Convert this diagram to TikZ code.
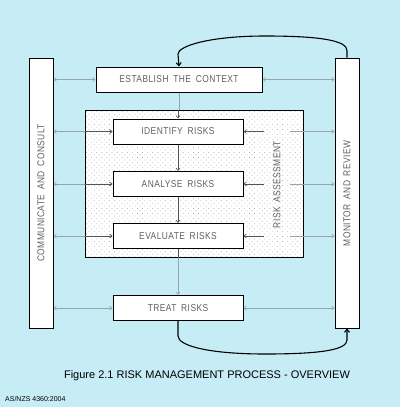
\documentclass[tikz,border=0pt]{standalone}
\usepackage{fontspec}
\setmainfont{Liberation Sans}
\newfontfamily\boxfamily[LetterSpace=4.5,FakeStretch=0.84,WordSpace=1.7]{Liberation Sans}
\usepackage{xcolor}
\usepackage{tikz}
\usetikzlibrary{patterns.meta,arrows.meta}
\definecolor{skyblue}{RGB}{198,237,245}
\definecolor{linkgray}{RGB}{150,165,170}
\definecolor{linkdark}{RGB}{85,85,85}
\definecolor{boxtext}{RGB}{95,95,95}
\newcommand\boxfont{\boxfamily\fontsize{10}{11}\selectfont}

\begin{document}
\begin{tikzpicture}[x=1pt,y=-1pt,
    box/.style={draw=black,line width=1pt,fill=white,minimum height=25pt,inner sep=0pt,font=\boxfont,text=boxtext},
    sidebox/.style={draw=black,line width=1pt,fill=white,minimum width=24pt,minimum height=270pt,inner sep=0pt},
    sidetext/.style={rotate=90,font=\boxfont,text=boxtext,inner sep=0pt},
    tip/.tip={Straight Barb[length=2.5pt,width=4pt]},
    link/.style={draw=linkgray,line width=0.6pt,tip-tip},
    darklink/.style={draw=linkdark,line width=0.6pt},
    loop/.style={draw=black,line width=1.1pt,-{Straight Barb[length=3pt,width=5pt]}}]
  \fill[skyblue] (0,0) rectangle (400,407);
  \useasboundingbox (0,0) rectangle (400,407);

  \node[draw=black,line width=1pt,minimum width=218pt,minimum height=147pt,
        preaction={fill=white},pattern={Dots[distance=3.6pt,radius=0.5pt,angle=45]},pattern color=gray!65] (ra) at (194,183.5) {};
  \node[sidetext,inner ysep=9pt] (ratext) at (277,184.5) {RISK ASSESSMENT};

  \node[sidebox] (comm) at (41,193) {};
  \node[sidetext] (commtext) at (41,193) {COMMUNICATE AND CONSULT};
  \node[sidebox] (mon) at (347,193) {};
  \node[sidetext] (montext) at (347,193.5) {MONITOR AND REVIEW};

  \node[box,minimum width=166pt] (est) at (179,79.5) {ESTABLISH THE CONTEXT};
  \node[box,minimum width=130pt] (idf) at (178,131.5) {IDENTIFY RISKS};
  \node[box,minimum width=130pt] (ana) at (178,184) {ANALYSE RISKS};
  \node[box,minimum width=130pt] (eva) at (178,236) {EVALUATE RISKS};
  \node[box,minimum width=130pt] (trt) at (178,308) {TREAT RISKS};

  \draw[link] (comm.east |- est.west) -- (est.west);
  \draw[link] (est.east) -- (mon.west |- est.east);
  \draw[link] (comm.east |- trt.west) -- (trt.west);
  \draw[link] (trt.east) -- (mon.west |- trt.east);
  \foreach \b in {idf,ana,eva} {
    \draw[link] (comm.east |- \b.west) -- (\b.west);
    \draw[darklink,-tip] (ra.west |- \b.west) -- (\b.west);
    \draw[darklink,tip-] (\b.east) -- (ratext.north |- \b.east);
    \draw[link,-tip] (ratext.south |- \b.east) -- (mon.west |- \b.east);
  }

  \draw[link,-] (est.south) -- (ra.north -| est.south);
  \draw[darklink,-tip] (ra.north -| idf.north) -- (idf.north);
  \draw[darklink,-tip] (idf.south) -- (ana.north);
  \draw[darklink,-tip] (ana.south) -- (eva.north);
  \draw[darklink] (eva.south) -- (ra.south -| eva.south);
  \draw[link,-tip] (ra.south -| trt.north) -- (trt.north);

  \draw[loop] (mon.north) -- ++(0,-7) .. controls +(0,-10) and +(55,0) .. (265,36)
    .. controls +(-55,0) and +(0,-8) .. (178,54) -- (est.north);
  \draw[loop] (trt.south) -- ++(0,15) .. controls +(0,10) and +(-55,0) .. (265,354)
    .. controls +(55,0) and +(0,10) .. (347,340) -- (mon.south);

  \node[font=\fontsize{11}{13}\selectfont] (cap) at (207,376) {Figure 2.1 RISK MANAGEMENT PROCESS - OVERVIEW};
  \node[anchor=west,font=\fontsize{7}{8}\selectfont,inner sep=0pt] (std) at (5,399) {AS/NZS 4360:2004};
\end{tikzpicture}
\end{document}
